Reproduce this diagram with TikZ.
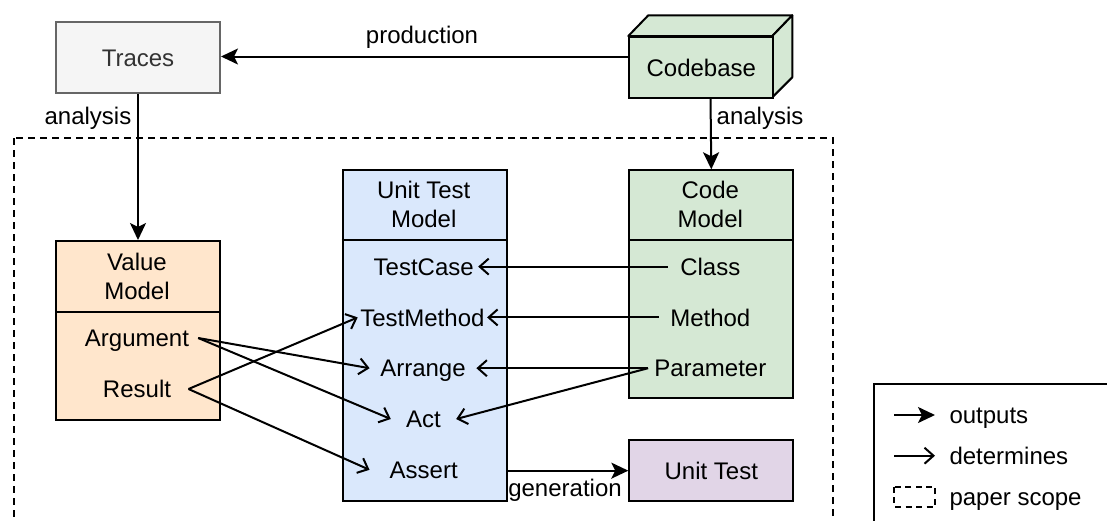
\documentclass[tikz,border=0pt]{standalone}
\usepackage{fontspec}
\setmainfont{Liberation Sans}
\usetikzlibrary{arrows.meta}
\definecolor{tracefill}{HTML}{F5F5F5}
\definecolor{tracedraw}{HTML}{666666}
\definecolor{tracetext}{HTML}{333333}
\definecolor{orangefill}{HTML}{FFE6CC}
\definecolor{bluefill}{HTML}{DAE8FC}
\definecolor{greenfill}{HTML}{D5E8D4}
\definecolor{purplefill}{HTML}{E1D5E7}
\begin{document}
\begin{tikzpicture}[x=1pt,y=-1pt,
  every node/.style={font=\fontsize{24}{29}\selectfont},
  lw/.style={line width=2pt},
  box/.style={lw, draw=black, inner sep=0, anchor=north west, text height=17.2pt, text depth=0pt},
  txt/.style={inner sep=0, text height=17.2pt, text depth=0pt},
  item/.style={txt, minimum width=#1},
  hdr/.style={inner sep=0, align=center},
  outarr/.style={lw, -{Stealth[length=17pt,width=16pt,inset=4pt]}},
  detarr/.style={lw, line join=miter, -{Straight Barb[length=9pt,width=16pt,line width=2pt]}},
  scopeline/.style={lw, dash pattern=on 7pt off 5pt},
]
\useasboundingbox (0,0) rectangle (1107,520);
\clip (0,0) rectangle (1107,520);

% paper scope
\draw[scopeline] (14.3,138.3) rectangle (832.7,560);

% Traces
\node[box, draw=tracedraw, fill=tracefill, text=tracetext, minimum width=164pt, minimum height=71.6pt] (traces) at (55,20.7) {Traces};

% Codebase cube
\node[inner sep=0, minimum width=164pt, minimum height=82pt, anchor=north west] (cb) at (628.3,15.3) {};
\draw[lw, fill=greenfill, line join=round] (628.3,36) -- (648.3,15.3) -- (792.3,15.3) -- (772.3,36) -- cycle;
\draw[lw, fill=greenfill, line join=round] (772.3,36) -- (792.3,15.3) -- (792.3,77.3) -- (772.3,97.3) -- cycle;
\node[box, fill=greenfill, minimum width=144pt, minimum height=61.3pt] (cbf) at (628.3,36) {Codebase};

% Value Model
\node[box, fill=orangefill, minimum width=164pt, minimum height=179pt] (vm) at (55,240) {};
\draw[lw] (55,312.3) -- (219,312.3);
\node[hdr] (vmh) at (137,276) {Value\\Model};
\node[item=122pt] (arg) at (137,338) {Argument};
\node[item=102.6pt] (res) at (137,389) {Result};

% Unit Test Model
\node[box, fill=bluefill, minimum width=164pt, minimum height=330.7pt] (utm) at (341.7,169.3) {};
\draw[lw] (341.7,240) -- (505.7,240);
\node[hdr] (utmh) at (423.7,204.8) {Unit Test\\Model};
\node[item=108.6pt] (tcase) at (423.7,266.6) {TestCase};
\node[item=129pt] (tmeth) at (422.4,317.4) {TestMethod};
\node[item=106.4pt] (arr) at (423,368.2) {Arrange};
\node[item=65pt] (act) at (423.5,419) {Act};
\node[item=108pt] (asrt) at (423.7,469.8) {Assert};

% Code Model
\node[box, fill=greenfill, minimum width=164pt, minimum height=228pt] (cm) at (628.3,169.3) {};
\draw[lw] (628.3,240) -- (792.3,240);
\node[hdr] (cmh) at (710.3,204.8) {Code\\Model};
\node[item=84.6pt] (cls) at (710.3,266.6) {Class};
\node[item=102.6pt] (meth) at (710.3,317.4) {Method};
\node[item=124pt] (param) at (710.3,368.2) {Parameter};

% Unit Test
\node[box, fill=purplefill, minimum width=164pt, minimum height=60.7pt] (ut) at (628.3,439.3) {Unit Test};

% outputs connectors
\draw[outarr] (cb.west) -- (cb.west -| traces.east);
\node[txt] (lprod) at (422,34.7) {production};
\draw[outarr] (traces.south) -- (vm.north);
\node[txt, anchor=east] (lana1) at (131.5,115.5) {analysis};
\draw[outarr] (cb.south) -- (cm.north);
\node[txt, anchor=west] (lana2) at (716.5,115.5) {analysis};
\draw[outarr] (utm.east |- ut.west) -- (ut.west);
\node[txt] (lgen) at (565,488) {generation};

% determines connectors
\draw[detarr] (cls.west) -- (tcase.east);
\draw[detarr] (meth.west) -- (tmeth.east);
\draw[detarr] (param.west) -- (arr.east);
\draw[detarr] (param.west) -- (act.east);
\draw[detarr] (arg.east) -- (arr.west);
\draw[detarr] (arg.east) -- (act.west);
\draw[detarr] (res.east) -- (tmeth.west);
\draw[detarr] (res.east) -- (asrt.west);

% legend
\draw[lw] (874,384) rectangle (1130,560);
\coordinate (o1) at (894,415);
\coordinate (o2) at (935,415);
\draw[outarr] (o1) -- (o2);
\node[txt, anchor=west] (lout) at (949.3,415) {outputs};
\coordinate (d1) at (894,455.7);
\coordinate (d2) at (935,455.7);
\draw[detarr] (d1) -- (d2);
\node[txt, anchor=west] (ldet) at (949.3,455.7) {determines};
\draw[lw, dash pattern=on 6pt off 4.5pt] (894,486.7) rectangle (935,506.7);
\node[txt, anchor=west] (lscope) at (949.3,496.7) {paper scope};
\end{tikzpicture}
\end{document}
